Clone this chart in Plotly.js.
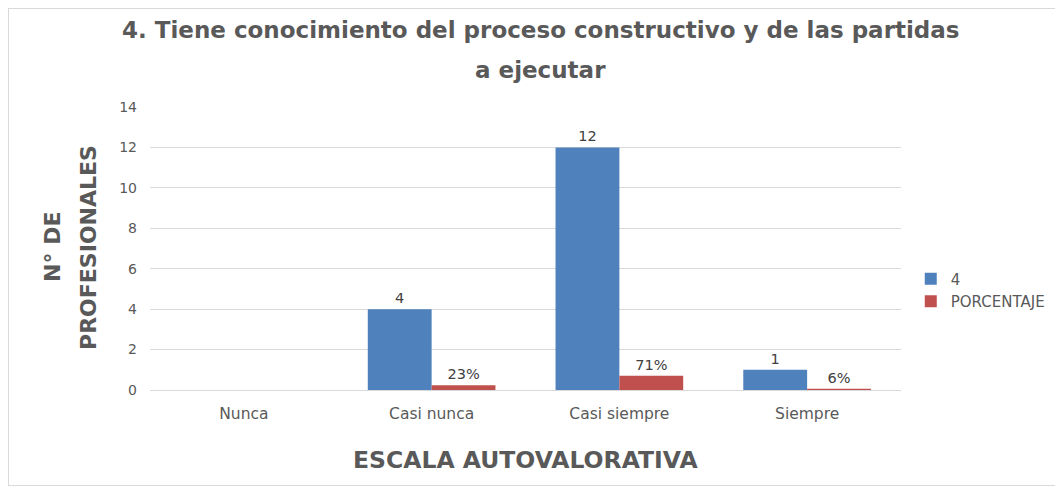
<!DOCTYPE html>
<html><head><meta charset="utf-8">
<script src="https://cdn.plot.ly/plotly-3.0.1.min.js"></script>
<style>
html,body{margin:0;padding:0;background:#fff;overflow:hidden;}
#frame{position:absolute;left:8px;top:8px;width:1100px;height:476px;border:1px solid #d9d9d9;}
#chart{position:absolute;left:0;top:0;width:1055px;height:488px;}
</style></head>
<body>
<div id="frame"></div>
<div id="chart"></div>
<script>
const categories = ["Nunca", "Casi nunca", "Casi siempre", "Siempre"];
const seriesCount = [0, 4, 12, 1];
const seriesPct = [0, 0.23, 0.71, 0.06];
const yTicks = [0, 2, 4, 6, 8, 10, 12, 14];
const titleLines = ["4. Tiene conocimiento del proceso constructivo y de las partidas", "a ejecutar"];
const yTitleLines = ["N° DE", "PROFESIONALES"];
const xTitle = "ESCALA AUTOVALORATIVA";

const gray = "#595959";
const fontFam = "DejaVu Sans, sans-serif";

const traces = [
  {type:"bar", name:"4", x:categories, y:seriesCount,
   marker:{color:"#4F81BD"},
   text: seriesCount.map(v => v > 0 ? String(v) : ""),
   textposition:"outside", cliponaxis:false,
   textfont:{size:14.5, color:"#404040", family:fontFam}, hoverinfo:"x+y"},
  {type:"bar", name:"PORCENTAJE", x:categories, y:seriesPct,
   marker:{color:"#C0504D"},
   text: seriesPct.map(v => v > 0 ? Math.round(v*100) + "%" : ""),
   textposition:"outside", cliponaxis:false,
   textfont:{size:14.5, color:"#404040", family:fontFam}, hoverinfo:"x+y"}
];

const annotations = [
  {text:"<b>"+titleLines[0]+"</b>", xref:"paper", yref:"paper", x:0.52, y:1.272, xanchor:"center", yanchor:"middle", showarrow:false, font:{family:fontFam, size:23, color:gray}},
  {text:"<b>"+titleLines[1]+"</b>", xref:"paper", yref:"paper", x:0.52, y:1.131, xanchor:"center", yanchor:"middle", showarrow:false, font:{family:fontFam, size:23, color:gray}},
  {text:"<b>"+yTitleLines[0]+"</b>", xref:"paper", yref:"paper", x:-0.1307, y:0.505, xanchor:"center", yanchor:"middle", textangle:-90, showarrow:false, font:{family:fontFam, size:22, color:gray}},
  {text:"<b>"+yTitleLines[1]+"</b>", xref:"paper", yref:"paper", x:-0.0827, y:0.505, xanchor:"center", yanchor:"middle", textangle:-90, showarrow:false, font:{family:fontFam, size:22, color:gray}},
  {text:"<b>"+xTitle+"</b>", xref:"paper", yref:"paper", x:0.5, y:-0.247, xanchor:"center", yanchor:"middle", showarrow:false, font:{family:fontFam, size:23.5, color:gray}}
];

const layout = {
  width:1055, height:488,
  paper_bgcolor:"rgba(0,0,0,0)", plot_bgcolor:"rgba(0,0,0,0)",
  margin:{l:150, r:154, t:107, b:98, autoexpand:false},
  barmode:"group", bargap:0.32, bargroupgap:0,
  font:{family:fontFam, color:gray},
  annotations: annotations,
  xaxis:{type:"category", showgrid:false, showline:false, zeroline:false, ticks:"",
         tickfont:{size:15.5, color:gray}, automargin:false, ticklabelstandoff:12},
  yaxis:{range:[0,14], tickvals:yTicks, showgrid:true, gridcolor:"#d9d9d9", gridwidth:1,
         zeroline:true, zerolinecolor:"#d9d9d9", showline:false, ticks:"", ticklen:0,
         tickfont:{size:14, color:gray}, automargin:false, ticklabelstandoff:12},
  legend:{x:1.013, xanchor:"left", y:0.353, yanchor:"middle", font:{size:15, color:gray},
          itemwidth:30, tracegroupgap:0},
  showlegend:true
};

Plotly.newPlot("chart", traces, layout, {displayModeBar:false, staticPlot:true});
</script>
</body></html>
